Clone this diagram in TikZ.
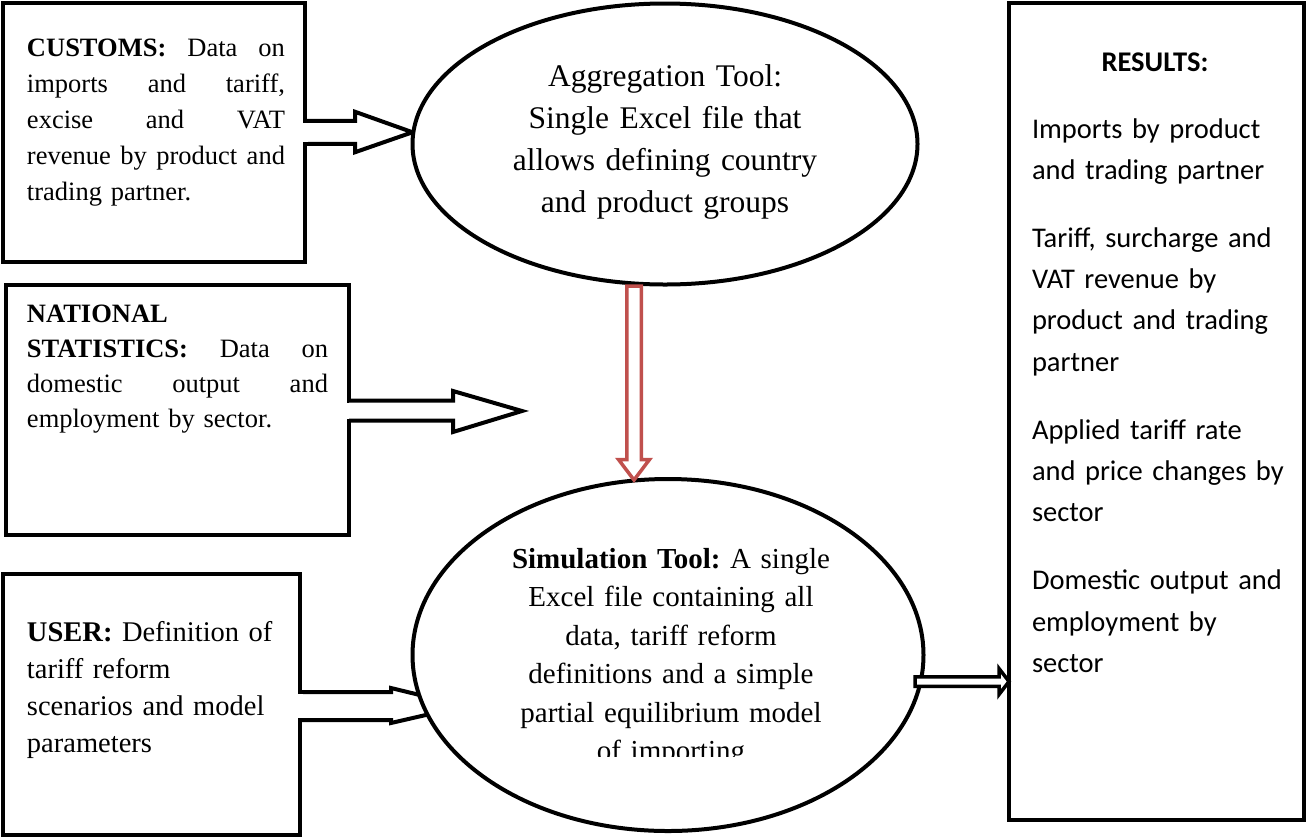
\documentclass[tikz,border=0pt]{standalone}
\usepackage{fontspec}
\setmainfont{Liberation Serif}
\newfontfamily\calibrifont{Carlito}
\usetikzlibrary{shapes.geometric,calc,backgrounds}
\definecolor{arrowred}{HTML}{C0504D}
\frenchspacing
\newcommand{\jline}[2]{\leavevmode\hbox to #1{#2}}
\begin{document}
\begin{tikzpicture}[x=1pt,y=-1pt,
  box/.style={draw, line width=4pt, rectangle, inner sep=0pt, outer sep=0pt},
  oval/.style={draw, line width=4pt, ellipse, fill=white, inner sep=0pt, outer sep=0pt},
  barrow/.style={draw, line width=4pt, fill=white, line join=miter},
  redarr/.style={draw=arrowred, line width=3.5pt, fill=white, line join=miter},
  txt/.style={inner sep=0pt, outer sep=0pt},
  gapfill/.style={fill=white}]
\useasboundingbox (0,0) rectangle (1306,839);

% boxes
\node[box, minimum width=302.5pt, minimum height=259.5pt] (customs) at (153.75,132.25) {};
\node[box, minimum width=343pt, minimum height=250pt] (natstat) at (177.5,410) {};
\node[box, minimum width=297.5pt, minimum height=261pt] (user) at (151.25,704.5) {};
\node[box, minimum width=295pt, minimum height=817pt] (results) at (1156.5,411.5) {};

% gaps in the box edges where the block arrows leave
\fill[gapfill] ($(customs.east)+(-2.6,-9.5)$) rectangle ($(customs.east)+(2.6,9.5)$);
\fill[gapfill] ($(natstat.east)+(-2.6,-7.5)$) rectangle ($(natstat.east)+(2.6,8.5)$);
\fill[gapfill] ($(user.east)+(-2.6,-10.5)$) rectangle ($(user.east)+(2.6,13.5)$);

% ellipses
\node[oval, minimum width=505pt, minimum height=281pt] (agg) at (665,144) {};
\node[oval, minimum width=511pt, minimum height=352pt] (sim) at (668,655) {};

% block arrows behind the ellipses
\begin{pgfonlayer}{background}
\draw[barrow] ($(customs.east)+(0,-11.5)$) -- ++(50,0) -- ++(0,-9) -- (customs.east -| agg.west)
  -- ($(customs.east)+(50,20)$) -- ++(0,-8.5) -- ($(customs.east)+(0,11.5)$);
\coordinate (utip) at ($(user.east)+(165,1.5)$);
\draw[barrow] ($(user.east)+(0,-12.5)$) -- ++(91,0) -- ++(0,-4) -- (utip)
  -- ($(user.east)+(91,18.5)$) -- ++(0,-3) -- ($(user.east)+(0,15.5)$);
\end{pgfonlayer}

% national statistics arrow (free end)
\coordinate (ntip) at (522,411);
\draw[barrow] ($(natstat.east)+(0,-9.5)$) -- ++(104,0) -- ++(0,-9.5) -- (ntip)
  -- ($(natstat.east)+(104,22)$) -- ++(0,-11.5) -- ($(natstat.east)+(0,10.5)$);

% red arrow from aggregation to simulation
\coordinate (rtop) at ($(agg.south)+(-31,1.5)$);
\coordinate (rtip) at ($(sim.north)+(-34,1)$);
\draw[redarr] ($(rtop)+(-7.25,0)$) -- ($(rtip)+(-7.25,-20.5)$) -- ($(rtip)+(-15.5,-20.5)$) -- (rtip)
  -- ($(rtip)+(15.5,-20.5)$) -- ($(rtip)+(7.25,-20.5)$) -- ($(rtop)+(7.25,0)$) -- cycle;

% arrow from simulation to results
\coordinate (ra) at ($(sim.east)+(-8.5,26.5)$);
\coordinate (rb) at (results.west |- ra);
\draw[barrow, line width=3.5pt] ($(ra)+(0,-4.75)$) -- ($(rb)+(-10,-4.75)$) -- ($(rb)+(-10,-13)$) -- (rb)
  -- ($(rb)+(-10,13)$) -- ($(rb)+(-10,4.75)$) -- ($(ra)+(0,4.75)$) -- cycle;

% texts
\node[txt, font=\fontsize{26.5}{36}\selectfont, text width=258pt, align=left, anchor=base west] (customstext) at (27,56)
 {\jline{258pt}{\textbf{CUSTOMS:}\hfill Data\hfill on}\\
  \jline{258pt}{imports\hfill and\hfill tariff,}\\
  \jline{258pt}{excise\hfill and\hfill VAT}\\
  \jline{258pt}{revenue\hfill by\hfill product\hfill and}\\
  trading partner.};

\node[txt, font=\fontsize{26.5}{35}\selectfont, text width=301pt, align=left, anchor=base west] (nattext) at (27,322)
 {\textbf{NATIONAL}\\
  \jline{301pt}{\textbf{STATISTICS:}\hfill Data\hfill on}\\
  \jline{301pt}{domestic\hfill output\hfill and}\\
  employment by sector.};

\node[txt, font=\fontsize{28.5}{37}\selectfont, text width=265pt, align=left, anchor=base west] (usertext) at (27,641)
 {\textbf{USER:} Definition of\\
  tariff reform\\
  scenarios and model\\
  parameters};

\node[txt, font=\fontsize{31.5}{42}\selectfont, text width=360pt, align=center, anchor=base] (aggtext) at (665,86)
 {Aggregation Tool:\\ Single Excel file that\\ allows defining country\\ and product groups};

\begin{scope}
\clip (420,500) rectangle (920,756);
\node[txt, font=\fontsize{29}{38.5}\selectfont, text width=360pt, align=center, anchor=base] (simtext) at (671,568)
 {\textbf{Simulation Tool:} A single\\ Excel file containing all\\ data, tariff reform\\ definitions and a simple\\ partial equilibrium model\\ of importing};
\end{scope}

\node[txt, font=\calibrifont\bfseries\fontsize{28.5}{41}\selectfont, anchor=base] (restitle) at (1155,71) {RESULTS:};
\node[txt, font=\calibrifont\fontsize{28.5}{41.3}\selectfont, text width=265pt, align=left, anchor=base west] (restext) at (1032,138)
 {Imports by product\\ and trading partner\\[26.7pt]
  Tariff, surcharge and\\ VAT revenue by\\ product and trading\\ partner\\[26.7pt]
  Applied tariff rate\\ and price changes by\\ sector\\[26.7pt]
  Domestic output and\\ employment by\\ sector};
\end{tikzpicture}
\end{document}
